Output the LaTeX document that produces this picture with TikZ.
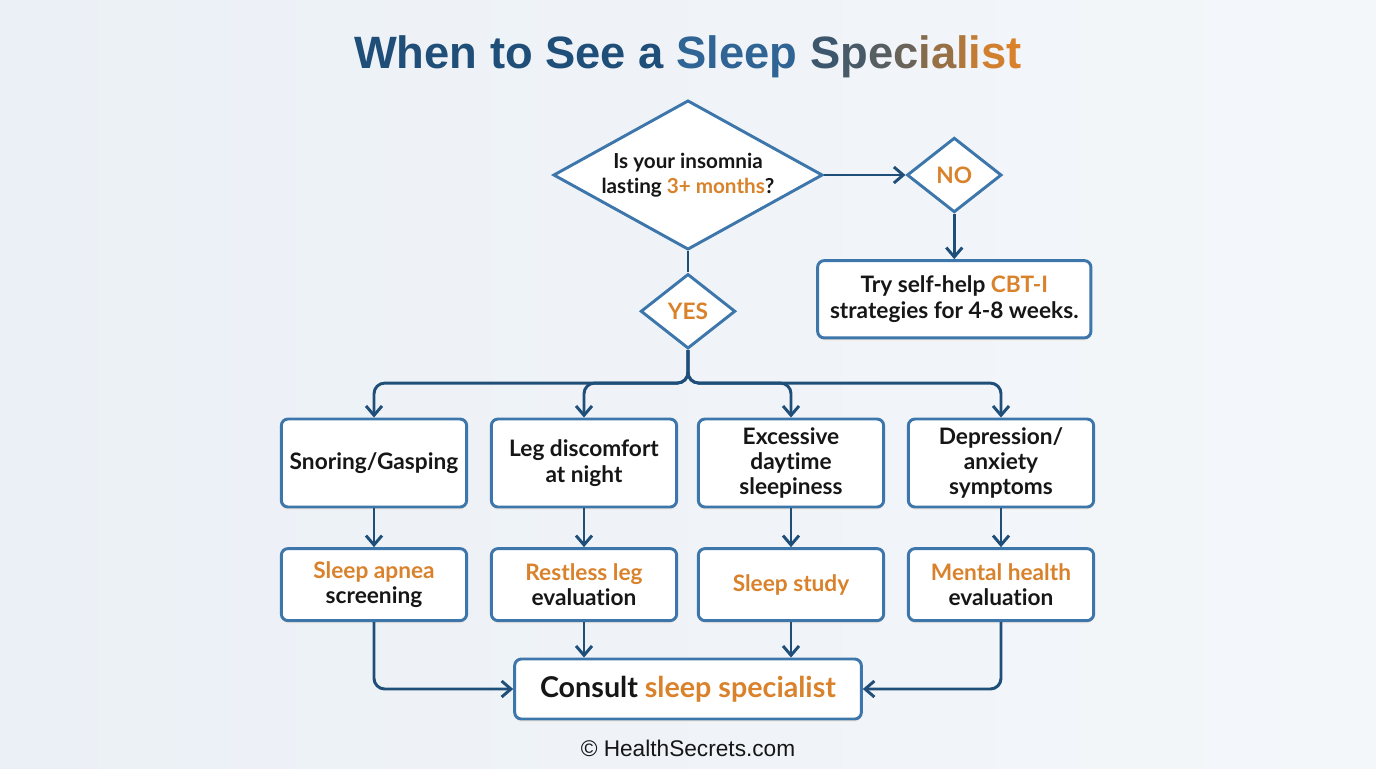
\documentclass[tikz,border=0pt]{standalone}
\usepackage{fontspec}
\setmainfont{Lato}[Ligatures=NoCommon]
\newfontfamily\titlefont{Liberation Sans}
\newfontfamily\creditfont{Liberation Sans}
\usepackage{xcolor}
\usepackage{tikz}
\usetikzlibrary{shapes, arrows.meta, positioning, calc, shadows}
\definecolor{flowblue}{RGB}{31, 78, 121}
\definecolor{edgeblue}{RGB}{60, 118, 170}
\definecolor{accent}{RGB}{217, 130, 43}
\definecolor{inktext}{RGB}{22, 22, 22}
\definecolor{bgleft}{RGB}{235, 240, 246}
\definecolor{bgright}{RGB}{244, 247, 250}
\newcommand{\hl}[1]{\textcolor{accent}{#1}}

\begin{document}
\begin{tikzpicture}[x=0.75pt, y=-0.75pt, >={Straight Barb[length=7pt, width=12pt]},
    panel/.style={draw=edgeblue, line width=2.2pt, rounded corners=5pt, fill=white, align=center,
        text=inktext, font=\fontsize{17}{19}\selectfont\bfseries,
        drop shadow={shadow xshift=0pt, shadow yshift=-2pt, opacity=0.3, fill=accent!40}},
    question/.style={diamond, draw=edgeblue, line width=2.2pt, fill=white, align=center, inner sep=0pt,
        text=inktext, font=\fontsize{17}{19}\selectfont\bfseries},
    choice/.style={question, minimum width=71pt, minimum height=56pt},
    flow/.style={->, draw=flowblue, line width=2.2pt},
    link/.style={draw=flowblue, line width=2.2pt}]
    % Background and frame
    \fill[left color=bgleft, right color=bgright] (0,0) rectangle (1376,768);
    \useasboundingbox (0,0) rectangle (1376,768);

    % Title
    \node[font=\titlefont\fontsize{34}{40}\selectfont\bfseries, text=flowblue] (title) at (688,57)
        {When to See a \textcolor{edgeblue!55!flowblue}{Sleep}
        \textcolor{flowblue!85!accent}{S}\textcolor{flowblue!78!accent}{p}\textcolor{flowblue!70!accent}{e}\textcolor{flowblue!60!accent}{c}\textcolor{flowblue!45!accent}{i}\textcolor{flowblue!35!accent}{a}\textcolor{flowblue!22!accent}{l}\textcolor{flowblue!12!accent}{i}\textcolor{flowblue!5!accent}{s}\textcolor{accent}{t}};

    % Decision nodes
    \node[question, shape aspect=1.8, minimum width=202pt, minimum height=112pt,
        font=\fontsize{15.5}{19}\selectfont\bfseries] (q) at (688,175) {Is your insomnia\\lasting \hl{3+ months}?};
    \node[choice, right=61pt of q] (no) {\hl{NO}};
    \node[choice, below=16pt of q] (yes) {\hl{YES}};
    \node[panel, below=34pt of no, minimum width=205pt, minimum height=58pt] (selfhelp) {Try self-help \hl{CBT-I}\\strategies for 4-8 weeks.};

    % Symptoms
    \node[panel, minimum width=139pt, minimum height=66pt] (snore) at (374,463) {Snoring/Gasping};
    \node[panel, minimum width=139pt, minimum height=66pt] (legs) at (584,463) {Leg discomfort\\at night};
    \node[panel, minimum width=139pt, minimum height=66pt] (daytime) at (791,463) {Excessive\\daytime\\sleepiness};
    \node[panel, minimum width=139pt, minimum height=66pt] (mood) at (1001,463) {Depression/\\anxiety\\symptoms};

    % Next steps
    \node[panel, below=29pt of snore, minimum width=139pt, minimum height=54pt] (apnea) {\hl{Sleep apnea}\\screening};
    \node[panel, below=29pt of legs, minimum width=139pt, minimum height=54pt] (rls) {\hl{Restless leg}\\evaluation};
    \node[panel, below=29pt of daytime, minimum width=139pt, minimum height=54pt] (study) {\hl{Sleep study}};
    \node[panel, below=29pt of mood, minimum width=139pt, minimum height=54pt] (mental) {\hl{Mental health}\\evaluation};

    \node[panel, minimum width=260pt, minimum height=45pt, font=\fontsize{21.5}{24}\selectfont\bfseries] (consult) at (688,689) {Consult \hl{sleep specialist}};
    \node[font=\creditfont\fontsize{17}{20}\selectfont, text=inktext] (credit) at (688,748) {© HealthSecrets.com};

    % Arrows
    \draw[flow] (q) -- (no);
    \draw[flow] (no) -- (selfhelp);
    \draw[link] (q) -- (yes);
    \coordinate (split) at ($(yes.south)+(0,33)$);
    \foreach \b in {snore, legs, daytime, mood}
        \draw[flow, rounded corners=8pt] (yes.south) -- (split) -| (\b.north);
    \draw[flow] (snore) -- (apnea);
    \draw[flow] (legs) -- (rls);
    \draw[flow] (daytime) -- (study);
    \draw[flow] (mood) -- (mental);
    \draw[flow, rounded corners=8pt] (apnea.south) |- (consult.west);
    \draw[flow] (rls.south) -- (rls.south |- consult.north);
    \draw[flow] (study.south) -- (study.south |- consult.north);
    \draw[flow, rounded corners=8pt] (mental.south) |- (consult.east);
\end{tikzpicture}
\end{document}
